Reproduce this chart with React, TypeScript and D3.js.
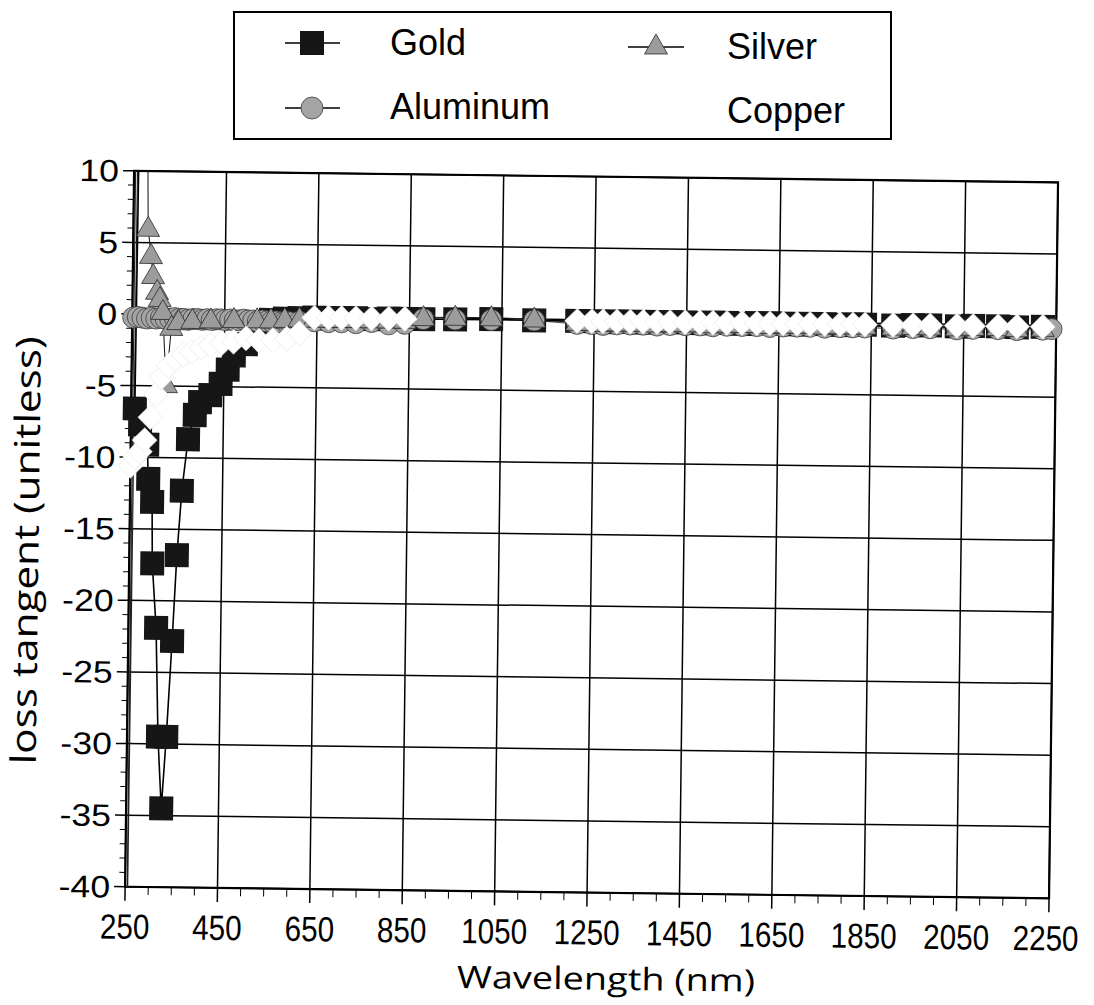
import React from "react";
import * as d3 from "d3";

// ---------- data (wavelength in nm, loss tangent unitless) ----------
const goldNm = [263, 258, 270, 286, 289, 298, 300, 310, 317, 326, 335, 345, 353, 362, 374, 388, 399, 421, 443, 458, 471, 497,
  520, 550, 580, 612, 644, 675, 703, 734, 768, 805, 840, 880, 949, 1027, 1120,
  1213, 1245, 1269, 1299, 1328, 1356, 1386, 1414, 1447, 1479, 1507, 1537, 1570, 1602, 1630, 1659, 1689, 1717, 1749, 1782,
  1810, 1836, 1897, 1940, 1977, 2035, 2070, 2124, 2165, 2221];
const goldTan = [40, -6.6, -7.7, -9.1, -11.5, -13.1, -17.4, -21.9, -29.5, -34.5, -29.5, -22.8, -16.8, -12.3, -8.7, -7.0, -6.1, -5.6, -4.8, -3.8, -2.8, -2.0,
  -0.5, -0.3, -0.2, -0.15, -0.1, -0.15, -0.1, -0.1, -0.15, -0.1, -0.1, -0.1, -0.1, -0.05, -0.1,
  -0.1, -0.1, -0.15, -0.1, -0.1, -0.15, -0.1, -0.1, -0.1, -0.15, -0.1, -0.1, -0.15, -0.1, -0.1, -0.1, -0.15, -0.1, -0.1, -0.15,
  -0.1, -0.1, -0.15, -0.1, -0.1, -0.15, -0.1, -0.1, -0.15, -0.1];

const silverNm = [252, 255, 259, 275, 282, 289, 294, 303, 309, 316, 325, 335, 350, 380, 420, 470, 520, 550, 580, 612,
  644, 675, 703, 734, 768, 805, 840, 880, 949, 1027, 1120,
  1213, 1245, 1269, 1299, 1328, 1356, 1386, 1414, 1447, 1479, 1507, 1537, 1570, 1602, 1630, 1659, 1689, 1717, 1749, 1782,
  1810, 1836, 1897, 1940, 1977, 2035, 2070, 2124, 2165, 2221];
const silverTan = [60, -60, 60, 20, 6.0, 4.1, 2.7, 1.6, 1.1, 0.2, -4.9, -0.9, -0.5, -0.4, -0.35, -0.3, -0.3, -0.3, -0.25, -0.2,
  -0.2, -0.2, -0.2, -0.2, -0.2, -0.2, -0.2, 0.0, 0.05, 0.05, 0.0,
  -0.2, -0.2, -0.25, -0.2, -0.2, -0.2, -0.25, -0.2, -0.2, -0.2, -0.25, -0.2, -0.2, -0.2, -0.25, -0.2, -0.2, -0.2, -0.25, -0.2,
  -0.2, -0.2, -0.25, -0.2, -0.2, -0.25, -0.2, -0.2, -0.25, -0.2];

const aluminumNm = [252, 262, 272, 282, 292, 302, 312, 322, 332, 342, 352, 362, 372, 382, 392, 402, 412, 422, 432, 442, 452,
  462, 472, 482, 492, 502, 512, 522, 532, 542, 552, 562, 572, 582, 592,
  612, 644, 675, 703, 734, 768, 805, 840, 880, 949, 1027, 1120,
  1213, 1245, 1269, 1299, 1328, 1356, 1386, 1414, 1447, 1479, 1507, 1537, 1570, 1602, 1630, 1659, 1689, 1717, 1749, 1782,
  1810, 1836, 1897, 1940, 1977, 2035, 2070, 2124, 2165, 2221, 2240];
const aluminumTan = [-0.25, -0.2, -0.25, -0.3, -0.25, -0.3, -0.25, -0.3, -0.3, -0.25, -0.3, -0.3, -0.35, -0.3, -0.3, -0.35, -0.3, -0.35, -0.3, -0.3, -0.35,
  -0.3, -0.35, -0.35, -0.3, -0.35, -0.35, -0.4, -0.35, -0.4, -0.4, -0.4, -0.45, -0.4, -0.45,
  -0.4, -0.35, -0.4, -0.4, -0.45, -0.35, -0.5, -0.45, -0.1, -0.1, -0.1, -0.1,
  -0.3, -0.3, -0.35, -0.3, -0.3, -0.3, -0.35, -0.3, -0.3, -0.3, -0.35, -0.3, -0.3, -0.3, -0.35, -0.3, -0.3, -0.3, -0.35, -0.3,
  -0.3, -0.3, -0.35, -0.3, -0.3, -0.35, -0.3, -0.3, -0.35, -0.3, -0.25];

const copperNm = [250, 260, 270, 280, 292, 303, 315, 330, 345, 362, 380, 400, 420, 445, 470, 497, 525, 555, 585, 612,
  644, 675, 703, 734, 768, 805, 840,
  1213, 1245, 1269, 1299, 1328, 1356, 1386, 1414, 1447, 1479, 1507, 1537, 1570, 1602, 1630, 1659, 1689, 1717, 1749, 1782,
  1810, 1836, 1897, 1940, 1977, 2035, 2070, 2124, 2165, 2221];
const copperTan = [-10.6, -10.0, -9.6, -8.8, -7.2, -5.6, -4.4, -3.6, -3.1, -2.8, -2.6, -2.3, -2.1, -1.95, -1.85, -1.6, -1.75, -1.7, -1.6, -1.2,
  -0.1, -0.1, -0.1, -0.1, -0.1, -0.1, -0.1,
  -0.1, -0.1, -0.1, -0.1, -0.1, -0.1, -0.1, -0.1, -0.1, -0.1, -0.1, -0.1, -0.1, -0.1, -0.1, -0.1, -0.1, -0.1, -0.1, -0.1,
  -0.1, -0.1, -0.1, -0.1, -0.1, -0.1, -0.1, -0.1, -0.1, -0.1];

const xTicks = [250, 450, 650, 850, 1050, 1250, 1450, 1650, 1850, 2050, 2250];
const yTicks = [10, 5, 0, -5, -10, -15, -20, -25, -30, -35, -40];

// ---------- layout ----------
const W = 1094;
const H = 1005;
const L = 130, T = 176, R = 1054, B = 892;
const ROT = 0.72;
const TICK_FONT = "'Liberation Sans', Arial, Helvetica, sans-serif";
const TITLE_FONT = "'Open Sans', 'Noto Sans', sans-serif";

type Pt = [number, number];
const zipPts = (a: number[], b: number[]): Pt[] => a.map((v, i) => [v, b[i]] as Pt);

const squarePath = (cx: number, cy: number, s = 12) =>
  `M${cx - s},${cy - s}H${cx + s}V${cy + s}H${cx - s}Z`;
const triPath = (cx: number, cy: number) =>
  `M${cx},${cy - 12}L${cx + 11.5},${cy + 8}L${cx - 11.5},${cy + 8}Z`;
const diamondPath = (cx: number, cy: number) =>
  `M${cx},${cy - 12.5}L${cx + 12.5},${cy}L${cx},${cy + 12.5}L${cx - 12.5},${cy}Z`;

export default function App() {
  const x = d3.scaleLinear().domain([250, 2250]).range([L, R]);
  const y = d3.scaleLinear().domain([-40, 10]).range([B, T]);

  const gold = zipPts(goldNm, goldTan);
  const silver = zipPts(silverNm, silverTan);
  const aluminum = zipPts(aluminumNm, aluminumTan);
  const copper = zipPts(copperNm, copperTan);

  const line = d3.line<Pt>().x((d) => x(d[0])).y((d) => y(d[1]));
  const inside = (d: Pt) => d[1] <= 10 && d[1] >= -40 && d[0] >= 250 && d[0] <= 2250;

  const xMinor = d3.range(250, 2251, 50).filter((v) => (v - 250) % 200 !== 0);
  const yMinor = d3.range(-40, 11, 1).filter((v) => v % 5 !== 0);

  const yLabelLen = (s: string) =>
    s.split("").reduce((acc, c) => acc + (c === "-" ? 0.38 : 0.64), 0) * 31;

  return (
    <svg width={W} height={H} style={{ position: "absolute", left: 0, top: 0 }}>
      <rect x={0} y={0} width={W} height={H} fill="#fff" />
      <defs>
        <clipPath id="plotClip">
          <rect x={L} y={T} width={R - L} height={B - T} />
        </clipPath>
      </defs>
      <g transform={`rotate(${ROT},547,500)`}>
        {/* grid */}
        {xTicks.map((t) => (
          <line key={"gx" + t} x1={x(t)} x2={x(t)} y1={T} y2={B} stroke="#000" strokeWidth={1.5} />
        ))}
        {yTicks.map((t) => (
          <line key={"gy" + t} x1={L} x2={R} y1={y(t)} y2={y(t)} stroke="#000" strokeWidth={1.5} />
        ))}
        {/* frame */}
        <rect x={L} y={T} width={R - L} height={B - T} fill="none" stroke="#000" strokeWidth={2.2} />

        {/* ticks */}
        {yTicks.map((t) => (
          <line key={"ty" + t} x1={L - 11} x2={L} y1={y(t)} y2={y(t)} stroke="#000" strokeWidth={1.5} />
        ))}
        {yMinor.map((t) => (
          <line key={"tym" + t} x1={L - 6} x2={L} y1={y(t)} y2={y(t)} stroke="#000" strokeWidth={1} />
        ))}
        {xTicks.map((t) => (
          <line key={"tx" + t} x1={x(t)} x2={x(t)} y1={B} y2={B + 14} stroke="#000" strokeWidth={1.5} />
        ))}
        {xMinor.map((t) => (
          <line key={"txm" + t} x1={x(t)} x2={x(t)} y1={B} y2={B + 8} stroke="#000" strokeWidth={1} />
        ))}

        {/* tick labels */}
        {yTicks.map((t) => (
          <text key={"ly" + t} x={L - 15} y={y(t) + 11} textAnchor="end" fontFamily={TICK_FONT}
            fontSize={31} textLength={yLabelLen(String(t))} lengthAdjust="spacingAndGlyphs" fill="#000">
            {String(t)}
          </text>
        ))}
        {xTicks.map((t) => (
          <text key={"lx" + t} x={x(t) - (t === 2250 ? 3 : 0)} y={B + 52} textAnchor="middle" fontFamily={TICK_FONT}
            fontSize={35} textLength={String(t).length * 16.5} lengthAdjust="spacingAndGlyphs" fill="#000">
            {String(t)}
          </text>
        ))}

        {/* axis titles */}
        <text x={612} y={989} textAnchor="middle" fontFamily={TITLE_FONT} fontSize={31}
          textLength={298} lengthAdjust="spacingAndGlyphs" fill="#000">
          Wavelength (nm)
        </text>
        <text transform="translate(39,557) rotate(-90)" textAnchor="middle" fontFamily={TITLE_FONT}
          fontSize={35} textLength={428} lengthAdjust="spacingAndGlyphs" fill="#000">
          loss tangent (unitless)
        </text>

        {/* series lines */}
        <g clipPath="url(#plotClip)" fill="none">
          <path d={line(copper) || ""} stroke="#fff" strokeWidth={1.5} />
          <path d={line(aluminum) || ""} stroke="#555" strokeWidth={1.2} />
          <path d={line(silver) || ""} stroke="#222" strokeWidth={1.1} />
          <path d={line(gold) || ""} stroke="#000" strokeWidth={1.6} />
        </g>

        {/* markers */}
        <g>
          {gold.filter(inside).map((d, i) => (
            <path key={"g" + i} d={squarePath(x(d[0]), y(d[1]))} fill="#161616" />
          ))}
          {aluminum.filter(inside).map((d, i) => (
            <circle key={"a" + i} cx={x(d[0])} cy={y(d[1])} r={10.5} fill="#a4a4a4" stroke="#3c3c3c" strokeWidth={0.8} />
          ))}
          {silver.filter(inside).map((d, i) => (
            <path key={"s" + i} d={triPath(x(d[0]), y(d[1]))} fill="#9c9c9c" stroke="#2a2a2a" strokeWidth={0.8} />
          ))}
          {copper.filter(inside).map((d, i) => (
            <path key={"c" + i} d={diamondPath(x(d[0]), y(d[1]))} fill="#fff" stroke="#e2e2e2" strokeWidth={0.6} />
          ))}
        </g>
      </g>

      {/* legend */}
      <g>
        <rect x={234} y={12} width={657} height={127} fill="#fff" stroke="#000" strokeWidth={2} />
        <line x1={285} x2={340} y1={43} y2={43} stroke="#000" strokeWidth={1.5} />
        <path d={squarePath(312, 43, 12)} fill="#161616" />
        <text x={390} y={55} fontFamily={TICK_FONT} fontSize={36} fill="#000">Gold</text>

        <line x1={628} x2={684} y1={47} y2={47} stroke="#000" strokeWidth={1.5} />
        <path d={triPath(656, 46)} fill="#9c9c9c" stroke="#2a2a2a" strokeWidth={0.8} />
        <text x={727} y={59} fontFamily={TICK_FONT} fontSize={36} fill="#000">Silver</text>

        <line x1={285} x2={340} y1={108} y2={108} stroke="#000" strokeWidth={1.5} />
        <circle cx={312} cy={108} r={11} fill="#a4a4a4" stroke="#3c3c3c" strokeWidth={0.8} />
        <text x={390} y={119} fontFamily={TICK_FONT} fontSize={36} fill="#000">Aluminum</text>

        <line x1={628} x2={684} y1={110} y2={110} stroke="#fff" strokeWidth={1.5} />
        <text x={727} y={123} fontFamily={TICK_FONT} fontSize={36} fill="#000">Copper</text>
      </g>
    </svg>
  );
}
